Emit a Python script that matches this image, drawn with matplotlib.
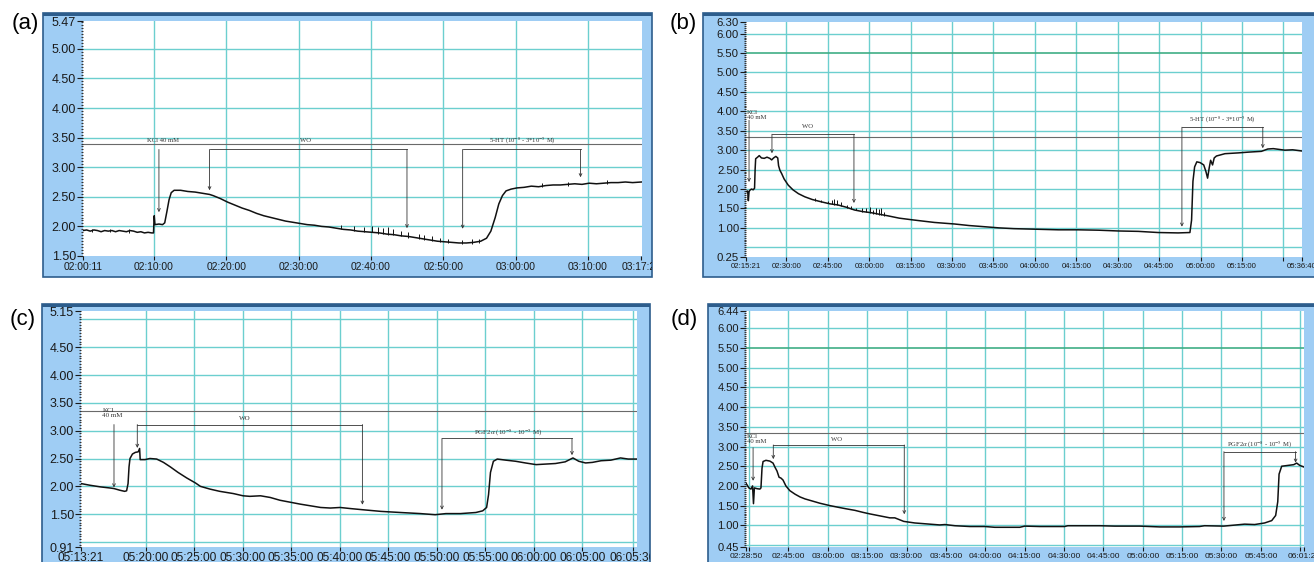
import matplotlib
matplotlib.use("Agg")
import matplotlib.pyplot as plt
from matplotlib.patches import Rectangle
from matplotlib.ticker import FixedLocator, MultipleLocator

plt.rcParams["mathtext.fontset"] = "stix"

W, H = 1314, 562
FRAME = "#9fcdf4"
FRAME_EDGE = "#2d5d8c"
GRID = "#6ccfcf"
GREEN = "#3fae85"
REF = "#6a6a6a"
TRACE = "#111111"
NOTE = "#333333"
SANS = ["Liberation Sans", "DejaVu Sans"]
SERIF = ["Liberation Serif", "DejaVu Serif"]

# ---------------- (a) ----------------
a_start = "02:00:11"
a_xtimes = ["02:00:11", "02:10:00", "02:20:00", "02:30:00", "02:40:00",
            "02:50:00", "03:00:00", "03:10:00", "03:17:24"]
a_xlabels = list(a_xtimes)
a_yticks = [1.50, 2.00, 2.50, 3.00, 3.50, 4.00, 4.50, 5.00, 5.47]
a_ygrid = [2.0, 2.5, 3.0, 3.5, 4.0, 4.5, 5.0]
a_t = [0, 0.5, 1, 1.5, 2, 2.5, 3, 3.5, 4, 4.5,
       5, 5.5, 6, 6.5, 7, 7.5, 8, 8.5, 9, 9.5,
       9.75, 9.8, 9.85, 9.95, 10.5, 11.0, 11.3, 11.6, 11.9, 12.2,
       12.6, 13.5, 14.5, 15.5, 16.5, 17.5, 18.0, 19, 20, 21,
       22, 23, 24, 25, 26, 27, 28, 29, 30, 31,
       32, 33, 34, 35, 36, 37, 38, 39, 40, 41,
       42, 43, 44, 45, 46, 47, 48, 49, 50, 51,
       52, 53, 54, 55, 55.8, 56.4, 57.0, 57.5, 58.0, 58.5,
       59.2, 60, 61, 62, 63, 64, 65, 66, 67, 68,
       69, 70, 71, 72, 73, 74, 75, 76, 77.2]
a_v = [1.93, 1.94, 1.92, 1.94, 1.93, 1.91, 1.93, 1.92, 1.93, 1.91,
       1.93, 1.92, 1.91, 1.93, 1.92, 1.90, 1.91, 1.89, 1.90, 1.89,
       1.89, 2.05, 2.18, 2.03, 2.04, 2.03, 2.06, 2.25, 2.45, 2.57,
       2.61, 2.61, 2.59, 2.58, 2.56, 2.54, 2.52, 2.47, 2.41, 2.36,
       2.31, 2.27, 2.22, 2.18, 2.15, 2.12, 2.09, 2.07, 2.05, 2.03,
       2.02, 2.00, 1.99, 1.97, 1.95, 1.94, 1.92, 1.91, 1.90, 1.89,
       1.87, 1.86, 1.84, 1.83, 1.81, 1.79, 1.77, 1.75, 1.74, 1.73,
       1.72, 1.72, 1.73, 1.75, 1.80, 1.92, 2.15, 2.38, 2.52, 2.60,
       2.63, 2.65, 2.66, 2.68, 2.67, 2.69, 2.70, 2.70, 2.71, 2.72,
       2.71, 2.73, 2.72, 2.73, 2.74, 2.74, 2.75, 2.74, 2.75]
a_spike_t = [1.2, 3.8, 6.4, 35.7, 37.5, 38.9, 39.9, 40.8, 41.5, 42.2, 42.9, 44.0,
             45.0, 46.4, 47.2, 48.2, 49.3, 50.5, 52.4, 53.8, 54.7, 63.5, 67.0, 72.5]
a_spike_lo = [1.91, 1.90, 1.89, 1.95, 1.93, 1.91, 1.90, 1.88, 1.87, 1.86, 1.85, 1.83,
              1.81, 1.79, 1.77, 1.75, 1.73, 1.72, 1.70, 1.71, 1.72, 2.66, 2.69, 2.71]
a_spike_hi = [1.96, 1.95, 1.95, 2.02, 2.00, 1.99, 2.00, 1.99, 1.97, 1.99, 1.95, 1.92,
              1.90, 1.87, 1.86, 1.83, 1.80, 1.78, 1.77, 1.78, 1.78, 2.73, 2.75, 2.78]

# ---------------- (b) ----------------
b_start = "02:15:21"
b_xtimes = ["02:15:21", "02:30:00", "02:45:00", "03:00:00", "03:15:00", "03:30:00",
            "03:45:00", "04:00:00", "04:15:00", "04:30:00", "04:45:00", "05:00:00",
            "05:15:00", "05:30:00", "05:36:40"]
b_xlabels = ["02:15:21", "02:30:00", "02:45:00", "03:00:00", "03:15:00", "03:30:00",
             "03:45:00", "04:00:00", "04:15:00", "04:30:00", "04:45:00", "05:00:00",
             "05:15:00", "", "05:36:40"]
b_yticks = [0.25, 1.00, 1.50, 2.00, 2.50, 3.00, 3.50, 4.00, 4.50, 5.00, 5.50, 6.00, 6.30]
b_ygrid = [0.5, 1.0, 1.5, 2.0, 2.5, 3.0, 3.5, 4.0, 4.5, 5.0, 6.0]
b_t = [0, 0.6, 0.85, 1.1, 1.4, 2.0, 2.6, 3.1, 3.3, 3.5,
       4.2, 4.8, 5.6, 6.6, 7.6, 8.6, 9.3, 10.0, 10.8, 11.5,
       11.8, 12.3, 12.9, 13.8, 15.3, 17.0, 19.0, 21.3, 24.0, 27.3,
       30.3, 33.3, 36.4, 39.3, 42.2, 45.4, 48.3, 51.4, 55.5, 59.9,
       63.4, 68.2, 71.8, 75.5, 80.8, 86.3, 91.6, 97.0, 102.4, 107.8,
       113.2, 120.4, 127.7, 134.9, 142.1, 149.3, 156.5, 160.8, 161.4, 161.9,
       162.5, 163.3, 164.5, 165.8, 166.6, 167.2, 167.8, 168.3, 169.0, 169.6,
       170.4, 173.5, 178.3, 182.0, 186.7, 189.0, 191.0, 195.2, 198.0, 201.3]
b_v = [1.93, 1.95, 1.70, 1.93, 1.97, 2.00, 1.98, 2.02, 2.50, 2.78,
       2.82, 2.86, 2.80, 2.79, 2.82, 2.79, 2.75, 2.80, 2.84, 2.80,
       2.60, 2.48, 2.40, 2.26, 2.10, 1.98, 1.88, 1.80, 1.73, 1.67,
       1.62, 1.59, 1.53, 1.46, 1.42, 1.39, 1.35, 1.31, 1.25, 1.21,
       1.18, 1.14, 1.12, 1.10, 1.06, 1.03, 1.00, 0.98, 0.97, 0.96,
       0.95, 0.95, 0.94, 0.92, 0.91, 0.88, 0.87, 0.88, 1.20, 2.20,
       2.57, 2.70, 2.68, 2.62, 2.45, 2.28, 2.55, 2.74, 2.62, 2.80,
       2.85, 2.91, 2.93, 2.95, 2.97, 3.03, 3.04, 3.00, 3.01, 2.98]
b_spike_t = [24.9, 27.0, 29.6, 31.0, 32.0, 33.0, 34.5, 36.5, 38.0,
             40.0, 42.0, 43.5, 45.0, 46.0, 47.0, 48.0, 49.0, 50.0]
b_spike_lo = [1.70, 1.67, 1.63, 1.61, 1.60, 1.58, 1.56, 1.52, 1.49,
              1.45, 1.42, 1.40, 1.37, 1.36, 1.35, 1.34, 1.32, 1.31]
b_spike_hi = [1.78, 1.73, 1.70, 1.72, 1.74, 1.72, 1.66, 1.60, 1.56,
              1.52, 1.50, 1.52, 1.55, 1.47, 1.52, 1.48, 1.50, 1.40]

# ---------------- (c) ----------------
c_start = "05:13:21"
c_xtimes = ["05:13:21", "05:20:00", "05:25:00", "05:30:00", "05:35:00", "05:40:00",
            "05:45:00", "05:50:00", "05:55:00", "06:00:00", "06:05:00", "06:10:15"]
c_xlabels = ["05:13:21", "05:20:00", "05:25:00", "05:30:00", "05:35:00", "05:40:00",
             "05:45:00", "05:50:00", "05:55:00", "06:00:00", "06:05:00", "06:05:36"]
c_yticks = [0.91, 1.50, 2.00, 2.50, 3.00, 3.50, 4.00, 4.50, 5.15]
c_ygrid = [1.0, 1.5, 2.0, 2.5, 3.0, 3.5, 4.0, 4.5, 5.0]
c_t = [0, 0.9, 2.0, 3.0, 3.4, 4.0, 4.5, 4.7, 4.85, 4.95,
       5.05, 5.3, 5.6, 5.9, 6.04, 6.1, 6.6, 7.1, 7.8, 8.5,
       9.2, 10.0, 10.9, 11.8, 12.3, 13.3, 14.3, 15.7, 16.7, 17.4,
       18.5, 19.5, 20.5, 22.6, 24.7, 25.7, 26.7, 27.8, 29.0, 30.9,
       32.9, 35.0, 36.5, 37.6, 39.1, 40.7, 41.4, 41.8, 42.0, 42.2,
       42.5, 42.9, 43.8, 44.8, 45.8, 46.9, 47.9, 48.9, 49.9, 50.7,
       51.3, 52.0, 52.7, 53.6, 54.6, 55.6, 56.4, 57.3]
c_v = [2.05, 2.02, 1.99, 1.97, 1.96, 1.93, 1.91, 1.92, 2.05, 2.35,
       2.50, 2.58, 2.61, 2.62, 2.68, 2.48, 2.48, 2.50, 2.49, 2.43,
       2.35, 2.25, 2.15, 2.06, 2.00, 1.95, 1.91, 1.87, 1.83, 1.82,
       1.83, 1.80, 1.75, 1.68, 1.62, 1.61, 1.62, 1.60, 1.58, 1.55,
       1.53, 1.51, 1.49, 1.51, 1.51, 1.53, 1.56, 1.62, 1.85, 2.25,
       2.45, 2.49, 2.47, 2.45, 2.42, 2.39, 2.40, 2.41, 2.44, 2.51,
       2.45, 2.42, 2.43, 2.46, 2.47, 2.51, 2.49, 2.49]

# ---------------- (d) ----------------
d_start = "02:28:50"
d_xtimes = ["02:28:50", "02:30:00", "02:45:00", "03:00:00", "03:15:00", "03:30:00",
            "03:45:00", "04:00:00", "04:15:00", "04:30:00", "04:45:00", "05:00:00",
            "05:15:00", "05:30:00", "05:45:00", "06:00:00", "06:01:20"]
d_xlabels = ["02:28:50", "", "02:45:00", "03:00:00", "03:15:00", "03:30:00",
             "03:45:00", "04:00:00", "04:15:00", "04:30:00", "04:45:00", "05:00:00",
             "05:15:00", "05:30:00", "05:45:00", "", "06:01:20"]
d_yticks = [0.45, 1.00, 1.50, 2.00, 2.50, 3.00, 3.50, 4.00, 4.50, 5.00, 5.50, 6.00, 6.44]
d_ygrid = [0.5, 1.0, 1.5, 2.0, 2.5, 3.0, 3.5, 4.0, 4.5, 5.0, 6.0]
d_t = [0, 1.1, 1.9, 2.5, 2.85, 3.2, 4.2, 5.3, 5.7, 6.1,
       6.5, 7.6, 9.1, 10.3, 11.0, 11.8, 12.6, 13.3, 14.1, 15.2,
       16.7, 18.7, 20.6, 22.5, 25.1, 28.2, 32.0, 35.0, 38.1, 41.5,
       44.5, 47.2, 51.0, 54.8, 56.7, 60.1, 64.3, 70.0, 73.8, 75.8,
       79.6, 85.3, 91.0, 94.8, 100.5, 104.3, 106.2, 111.9, 121.4, 122.6,
       131.0, 134.8, 140.5, 150.0, 157.6, 165.2, 172.8, 174.7, 182.0, 190.0,
       193.8, 197.6, 200.3, 201.8, 202.6, 203.1, 204.1, 206.4, 208.7, 209.8,
       211.0, 212.6]
d_v = [2.07, 1.95, 1.92, 2.00, 1.55, 1.95, 1.93, 1.92, 1.95, 2.45,
       2.62, 2.65, 2.63, 2.58, 2.48, 2.38, 2.22, 2.20, 2.15, 2.00,
       1.88, 1.79, 1.72, 1.67, 1.62, 1.56, 1.50, 1.46, 1.42, 1.38,
       1.33, 1.29, 1.24, 1.19, 1.19, 1.10, 1.06, 1.03, 1.01, 1.02,
       0.99, 0.97, 0.97, 0.95, 0.95, 0.95, 0.98, 0.97, 0.97, 0.99,
       0.99, 0.99, 0.98, 0.98, 0.96, 0.96, 0.97, 0.99, 0.98, 1.03,
       1.02, 1.06, 1.12, 1.25, 1.60, 2.30, 2.50, 2.52, 2.54, 2.58,
       2.52, 2.48]

HT = r"5-HT (10$^{-8}$ - 3*10$^{-5}$ M)"
PGF = r"PGF2$\alpha$ (10$^{-8}$ - 10$^{-5}$ M)"


def minutes(clock, start):
    h, m, s = map(int, clock.split(":"))
    h0, m0, s0 = map(int, start.split(":"))
    return ((h - h0) * 3600 + (m - m0) * 60 + (s - s0)) / 60


fig = plt.figure(figsize=(W / 100, H / 100), dpi=100)


def draw_panel(frame, box, start, xtimes, xlabels, xmax, yticks, ygrid, ref, green,
               t, v, spikes, kcl, marks, xsize, ysize, nsize, letter, letter_xy,
               xpad=1.5):
    fx0, fy0, fx1, fy1 = frame
    rect = Rectangle((fx0 / W, 1 - fy1 / H), (fx1 - fx0) / W, (fy1 - fy0) / H,
                     transform=fig.transFigure, facecolor=FRAME,
                     edgecolor=FRAME_EDGE, lw=1.2, zorder=-2)
    fig.add_artist(rect)
    fig.add_artist(Rectangle((fx0 / W, 1 - (fy0 + 3) / H), (fx1 - fx0) / W, 3 / H,
                             transform=fig.transFigure, facecolor=FRAME_EDGE,
                             edgecolor="none", zorder=-1))
    fig.text(letter_xy[0] / W, 1 - letter_xy[1] / H, letter, ha="center",
             va="center", fontsize=16, family=SANS)

    l, tp, r, b = box
    ax = fig.add_axes([l / W, 1 - b / H, (r - l) / W, (b - tp) / H])
    ax.set_facecolor("white")
    for s in ax.spines.values():
        s.set_visible(False)
    ax.set_xlim(0, xmax)
    ax.set_ylim(yticks[0], yticks[-1])

    xpos = [minutes(c, start) for c in xtimes]
    ax.xaxis.set_major_locator(FixedLocator(xpos))
    ax.set_xticklabels(xlabels)
    ax.yaxis.set_major_locator(FixedLocator(yticks))
    ax.set_yticklabels(["%.2f" % y for y in yticks])
    ax.yaxis.set_minor_locator(MultipleLocator(0.05))
    ax.tick_params(axis="x", direction="out", length=3, width=0.8, pad=xpad,
                   labelsize=xsize, labelfontfamily=SANS, colors="#1a1a1a")
    ax.tick_params(axis="y", which="major", direction="out", length=4, width=0.8,
                   pad=1, labelsize=ysize, labelfontfamily=SANS, colors="#1a1a1a")
    ax.tick_params(axis="y", which="minor", direction="out", length=1.5,
                   width=0.8, colors="#333333")
    for lab in ax.get_xticklabels():
        lab.set_clip_path(rect)

    for g in ygrid:
        ax.axhline(g, color=GRID, lw=1.0, zorder=1)
    for x in xpos:
        if 0 < x < xmax * 0.998:
            ax.axvline(x, color=GRID, lw=1.0, zorder=1)
    if green is not None:
        ax.axhline(green, color=GREEN, lw=1.2, zorder=1.5)
    ax.axhline(ref, color=REF, lw=0.8, zorder=1.5)

    ax.plot(t, v, color=TRACE, lw=1.1, zorder=3)
    if spikes:
        ax.vlines(spikes[0], spikes[1], spikes[2], color=TRACE, lw=0.7, zorder=3)

    arrow = dict(arrowstyle="->", lw=0.6, color=NOTE, shrinkA=0, shrinkB=0,
                 mutation_scale=5)
    text, lt, ly, ha, at, atop, atip = kcl
    ax.text(lt, ly, text, ha=ha, va="center", fontsize=nsize, family=SERIF,
            color=NOTE, linespacing=1.0, zorder=4)
    ax.annotate("", xy=(at, atip), xytext=(at, atop), arrowprops=arrow, zorder=4)
    for text, left, right, top, tip_l, tip_r, lt, ly in marks:
        ax.plot([left, right], [top, top], color=NOTE, lw=0.6, zorder=4)
        ax.annotate("", xy=(left, tip_l), xytext=(left, top), arrowprops=arrow, zorder=4)
        ax.annotate("", xy=(right, tip_r), xytext=(right, top), arrowprops=arrow, zorder=4)
        ax.text(lt, ly, text, ha="center", va="center", fontsize=nsize,
                family=SERIF, color=NOTE, zorder=4)
    return ax


draw_panel((43, 13, 652, 277), (83, 21, 642, 256), a_start, a_xtimes, a_xlabels, 77.3,
           a_yticks, a_ygrid, 3.39, None, a_t, a_v,
           (a_spike_t, a_spike_lo, a_spike_hi),
           ("KCl 40 mM", 11.05, 3.45, "center", 10.5, 3.30, 2.24),
           [("WO", 17.5, 44.8, 3.30, 2.61, 1.97, 30.7, 3.45),
            (HT, 52.5, 68.8, 3.30, 1.96, 2.83, 60.8, 3.45)],
           7.4, 9, 4.8, "(a)", (25, 24))

draw_panel((703, 13, 1322, 277), (746, 22, 1302, 257), b_start, b_xtimes, b_xlabels, 201.4,
           b_yticks, b_ygrid, 3.34, 5.5, b_t, b_v,
           (b_spike_t, b_spike_lo, b_spike_hi),
           ("KCl\n40 mM", 0.4, 3.91, "left", 1.1, 3.77, 2.18),
           [("WO", 9.4, 39.1, 3.41, 2.92, 1.64, 22.4, 3.62),
            (HT, 157.9, 187.2, 3.59, 1.03, 3.05, 172.7, 3.79)],
           5.6, 8.2, 4.8, "(b)", (683, 24))

draw_panel((42, 304, 650, 580), (81, 311, 637, 547), c_start, c_xtimes, c_xlabels, 57.3,
           c_yticks, c_ygrid, 3.36, None, c_t, c_v, None,
           ("KCl\n40 mM", 2.2, 3.31, "left", 3.4, 3.11, 1.98),
           [("WO", 5.8, 29.0, 3.11, 2.69, 1.67, 16.9, 3.22),
            (PGF, 37.2, 50.6, 2.86, 1.58, 2.56, 44.0, 2.97)],
           8.6, 9, 5.0, "(c)", (23, 320), xpad=0.3)

draw_panel((708, 304, 1322, 580), (746, 311, 1304, 547), d_start, d_xtimes, d_xlabels, 212.6,
           d_yticks, d_ygrid, 3.35, 5.5, d_t, d_v, None,
           ("KCl\n40 mM", 0.3, 3.18, "left", 2.7, 2.97, 2.13),
           [("WO", 10.4, 60.3, 3.04, 2.68, 1.28, 34.6, 3.17),
            (PGF, 182.1, 209.4, 2.87, 1.11, 2.59, 195.7, 3.04)],
           6.1, 8.0, 4.8, "(d)", (684, 319), xpad=1.0)

fig.savefig("out.png", dpi=100)
